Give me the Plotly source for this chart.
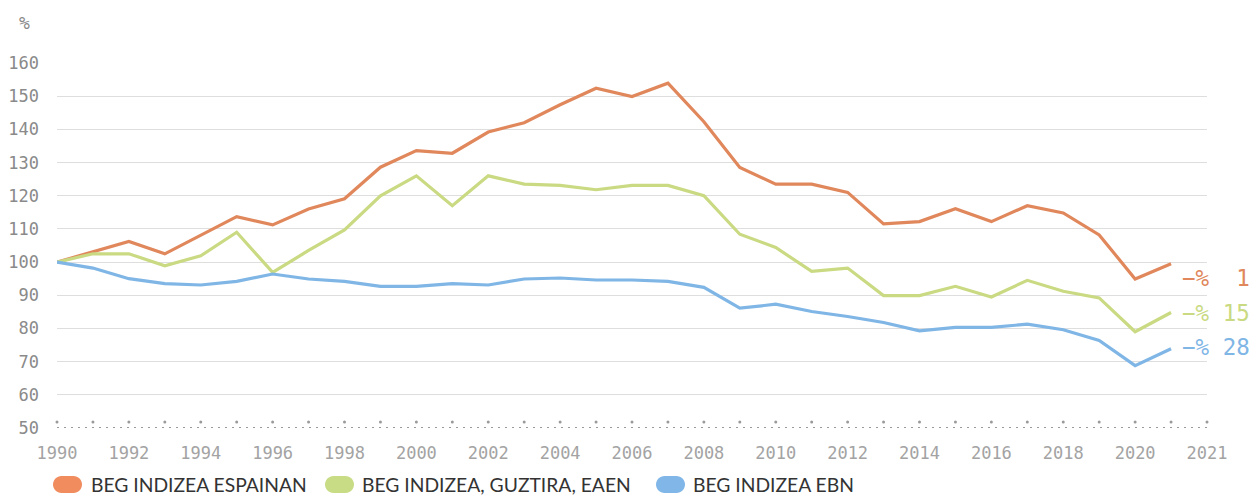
import plotly.graph_objects as go

years = list(range(1990, 2022))
spain = [100, 103.2, 106.2, 102.5, 108.2, 113.7, 111.2, 116.0, 119.1, 128.6, 133.6, 132.8,
         139.2, 142.0, 147.4, 152.4, 149.9, 153.9, 142.3, 128.5, 123.5, 123.5, 121.0, 111.5,
         112.2, 116.1, 112.2, 117.0, 114.8, 108.2, 94.9, 99.5]
eaen = [100, 102.5, 102.5, 98.9, 101.9, 109.0, 96.9, 103.5, 109.7, 120.0, 126.0, 117.0,
        126.0, 123.5, 123.1, 121.8, 123.1, 123.1, 120.0, 108.4, 104.4, 97.2, 98.2, 89.9,
        89.9, 92.7, 89.5, 94.5, 91.2, 89.2, 79.0, 84.8]
ebn = [100, 98.2, 95.0, 93.5, 93.1, 94.2, 96.4, 94.9, 94.2, 92.7, 92.7, 93.5,
       93.1, 94.9, 95.2, 94.6, 94.6, 94.2, 92.4, 86.1, 87.3, 85.1, 83.6, 81.8,
       79.3, 80.3, 80.3, 81.3, 79.6, 76.4, 68.8, 73.9]

series_names = ["BEG INDIZEA ESPAINAN", "BEG INDIZEA, GUZTIRA, EAEN", "BEG INDIZEA EBN"]
end_labels = ["−% 1", "−% 15", "−% 28"]
colors = ["#E0875C", "#C9DA82", "#7FB6E6"]
legend_colors = ["#F08C5E", "#C8DC86", "#80B7E8"]

tick_years = list(range(1990, 2023))
tick_vals = list(range(1990, 2021, 2)) + [2022]
tick_text = [str(v) for v in range(1990, 2021, 2)] + ["2021"]
y_ticks = list(range(50, 161, 10))

W, H = 1253, 496
ML, MR, MT, MB = 57, 46, 63, 68
PW, PH = W - ML - MR, H - MT - MB

def px_to_paper(px, py):
    return (px - ML) / PW, (H - MB - py) / PH

def pill_path(x0, y0, w, h):
    r = h / 2.0
    k = 0.5523 * r
    x1, y1 = x0 + w, y0 + h
    cy = y0 + r
    pts = [
        ("M", [(x0 + r, y0)]),
        ("L", [(x1 - r, y0)]),
        ("C", [(x1 - r + k, y0), (x1, cy - k), (x1, cy)]),
        ("C", [(x1, cy + k), (x1 - r + k, y1), (x1 - r, y1)]),
        ("L", [(x0 + r, y1)]),
        ("C", [(x0 + r - k, y1), (x0, cy + k), (x0, cy)]),
        ("C", [(x0, cy - k), (x0 + r - k, y0), (x0 + r, y0)]),
    ]
    out = []
    for cmd, ps in pts:
        coords = " ".join("%.5f,%.5f" % px_to_paper(a, b) for a, b in ps)
        out.append(cmd + coords)
    return " ".join(out) + " Z"

mono = "DejaVu Sans Mono"
fig = go.Figure()

for name, vals, c in zip(series_names, [spain, eaen, ebn], colors):
    fig.add_trace(go.Scatter(x=years, y=vals, mode="lines", name=name,
                             line=dict(color=c, width=3.2), showlegend=False,
                             hoverinfo="x+y"))

# dotted baseline with raised dots at each year
fig.add_shape(type="line", xref="x", yref="y", x0=1990, x1=2022, y0=50, y1=50,
              line=dict(color="#9a9a9a", width=2, dash="2px,5px"), layer="above")
fig.add_trace(go.Scatter(x=tick_years, y=[51.8] * len(tick_years), mode="markers",
                         marker=dict(color="#9a9a9a", size=3), showlegend=False,
                         hoverinfo="skip", cliponaxis=False))

# end labels (number right-aligned in a 2-char monospace field)
label_y = [95.3, 84.7, 74.4]
for txt, yv, c in zip(end_labels, label_y, colors):
    prefix, num = txt.split(" ")
    shown = prefix + "\u00a0" + num.rjust(2, "\u00a0")
    fig.add_annotation(x=2021, y=yv, text=shown, showarrow=False, xanchor="left",
                       xshift=9, font=dict(family=mono, size=22.5, color=c))

fig.add_annotation(xref="paper", yref="paper", x=-0.035, y=1.0, yshift=53,
                   text="%", showarrow=False, xanchor="left",
                   font=dict(family=mono, size=18, color="#8a8a8a"))

# custom legend: pill swatches + labels
swatch_x = [53, 325, 656]
text_x = [89, 360, 691]
leg_cy = 484.5
for name, c, sx, tx in zip(series_names, legend_colors, swatch_x, text_x):
    fig.add_shape(type="path", xref="paper", yref="paper",
                  path=pill_path(sx, leg_cy - 8.5, 29, 17),
                  fillcolor=c, line=dict(width=0))
    ax, ay = px_to_paper(tx, leg_cy)
    fig.add_annotation(xref="paper", yref="paper", x=ax, y=ay, text=name,
                       showarrow=False, xanchor="left", yanchor="middle",
                       font=dict(family="Lato", size=19.3, color="#333333"))

fig.update_layout(
    width=W, height=H,
    margin=dict(l=ML, r=MR, t=MT, b=MB, autoexpand=False),
    plot_bgcolor="white", paper_bgcolor="white",
    showlegend=False,
    xaxis=dict(range=[1990, 2022], tickvals=tick_vals, ticktext=tick_text,
               showgrid=False, zeroline=False, showline=False, ticks="",
               ticklabelstandoff=13,
               tickfont=dict(family=mono, size=17, color="#a3a3a3")),
    yaxis=dict(range=[50, 160], tickvals=y_ticks, showgrid=True,
               gridcolor="#dedede", gridwidth=1.3, zeroline=False, showline=False,
               ticks="", ticklabelstandoff=17,
               tickfont=dict(family=mono, size=17, color="#8a8a8a")),
)

fig.write_html("out.html", config={"displayModeBar": False},
               post_script="document.body.style.margin='0';")
